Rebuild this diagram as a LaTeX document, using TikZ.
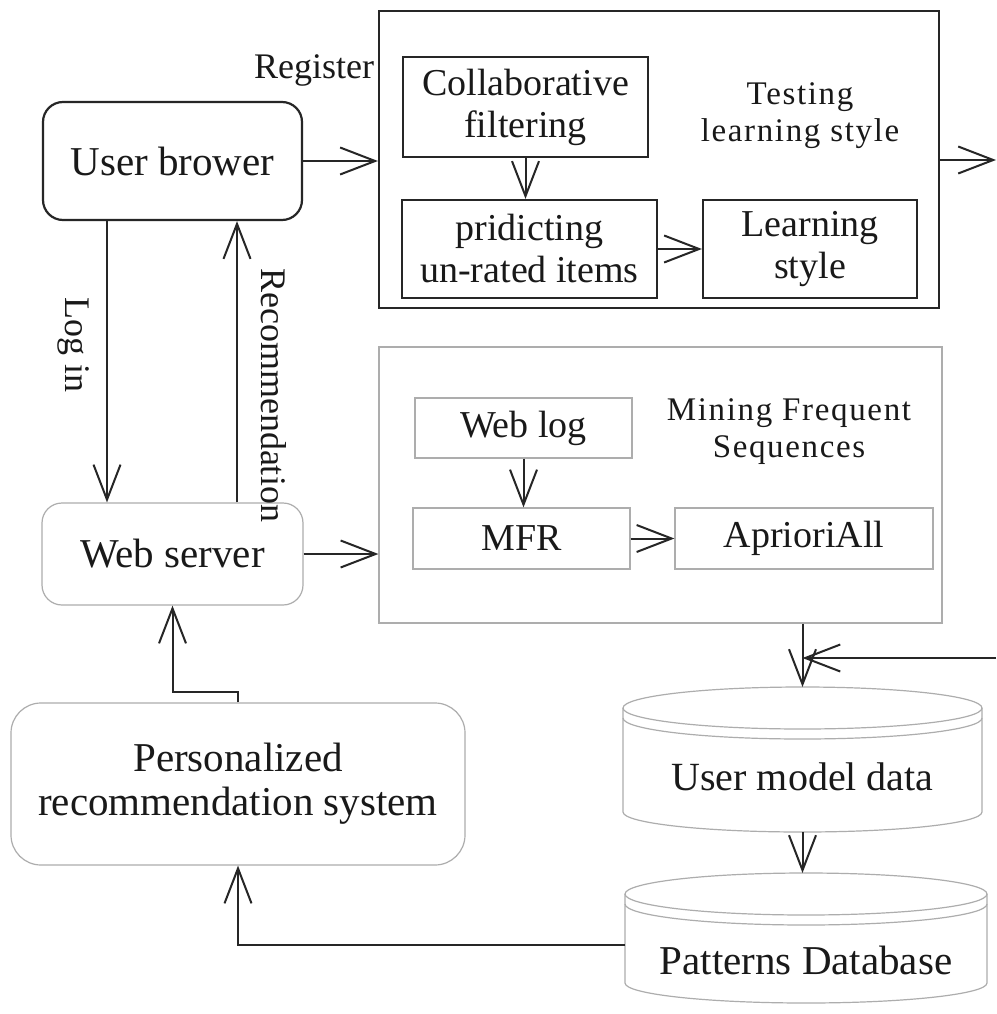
\documentclass[tikz,border=0pt]{standalone}
\usepackage{fontspec}
\setmainfont{Liberation Serif}
\usetikzlibrary{arrows.meta,calc}
\begin{document}
\begin{tikzpicture}[x=1pt,y=-1pt,
  bigfont/.style={font=\fontsize{38}{42}\selectfont},
  largefont/.style={font=\fontsize{41}{44}\selectfont},
  lblfont/.style={font=\fontsize{33}{37}\selectfont\addfontfeatures{LetterSpace=5}},
  blackbox/.style={draw=black!85, line width=2.2pt, rectangle, inner sep=0pt,
    align=center, bigfont, text=black!90},
  greybox/.style={draw=black!32, line width=1.2pt, rectangle, inner sep=0pt,
    align=center, bigfont, text=black!90},
  arr/.style={draw=black!85, line width=2pt,
    -{Straight Barb[length=35pt,width=27pt,line width=2pt]}},
  cylline/.style={draw=black!32, line width=1.2pt}
]
% canvas
\fill[white] (0,0) rectangle (996,1014);
\useasboundingbox (0,0) rectangle (996,1014);

% ---- upper group: learning style testing ----
\node[blackbox, largefont, rounded corners=20pt, minimum width=259pt, minimum height=118pt] (ub) at (172.5,161) {User brower};
\node[blackbox, minimum width=560pt, minimum height=297pt] (big) at (659,159.5) {};
\node[blackbox, minimum width=245pt, minimum height=100pt] (cf) at (525.5,107) {Collaborative\\filtering};
\node[blackbox, minimum width=255pt, minimum height=98pt] (pr) at (529.5,249) {pridicting\\un-rated items};
\node[blackbox, minimum width=214pt, minimum height=98pt] (ls) at (810,249) {Learning\\style};
\node[lblfont, align=center, text=black!90] (tls) at (800,116) {Testing\\learning style};
\node[font=\fontsize{36}{40}\selectfont, text=black!90] (reg) at (314,70) {Register};

% ---- middle group: mining frequent sequences ----
\node[greybox, largefont, rounded corners=20pt, minimum width=261pt, minimum height=102pt] (ws) at (172.5,554) {Web server};
\node[greybox, minimum width=563pt, minimum height=276pt] (mb) at (660.5,485) {};
\node[greybox, minimum width=217pt, minimum height=60pt] (wl) at (523.5,428) {Web log};
\node[greybox, minimum width=217pt, minimum height=61pt] (mfr) at (521.5,538.5) {MFR};
\node[greybox, minimum width=258pt, minimum height=61pt] (aa) at (804,538.5) {AprioriAll};
\node[lblfont, align=center, text=black!90] (mfs) at (789,432) {Mining Frequent\\Sequences};

% ---- lower group ----
\node[greybox, largefont, rounded corners=30pt, minimum width=454pt, minimum height=162pt] (prs) at (238,784) {Personalized\\recommendation system};

% user model data cylinder
\draw[cylline] (802.5,708) ellipse [x radius=179.5pt, y radius=21pt];
\draw[cylline] (623,718) arc[start angle=180, end angle=360, x radius=179.5pt, y radius=21pt];
\draw[cylline] (623,708) -- (623,812) arc[start angle=180, end angle=360, x radius=179.5pt, y radius=20pt] -- (982,708);
\node[font=\fontsize{40}{44}\selectfont, text=black!90] (umd) at (802.5,777) {User model data};
\coordinate (umdtop) at (802.5,687);
\coordinate (umdbot) at (802.5,832);

% patterns database cylinder
\draw[cylline] (806,894) ellipse [x radius=181pt, y radius=21pt];
\draw[cylline] (625,904) arc[start angle=180, end angle=360, x radius=181pt, y radius=21pt];
\draw[cylline] (625,894) -- (625,983) arc[start angle=180, end angle=360, x radius=181pt, y radius=20pt] -- (987,894);
\node[largefont, text=black!90] (pd) at (806,960) {Patterns Database};
\coordinate (pdtop) at (806,873);
\coordinate (pdleft) at (625,945);

% free ends at the right margin
\coordinate (outR) at (996,160);
\coordinate (inR) at (996,658);

% ---- connectors ----
\draw[arr] (ub.east) -- (ub.east -| big.west);
\draw[arr] (big.east |- outR) -- (outR);
\draw[arr] (cf.south) -- (cf.south |- pr.north);
\draw[arr] (pr.east) -- (ls.west);
\draw[arr] ([xshift=-65.5pt]ub.south) -- ([xshift=-65.5pt]ub.south |- ws.north);
\draw[arr] ([xshift=64.5pt]ws.north) -- ([xshift=64.5pt]ws.north |- ub.south);
\draw[arr] (ws.east) -- (ws.east -| mb.west);
\draw[arr] (wl.south) -- (wl.south |- mfr.north);
\draw[arr] (mfr.east) -- (aa.west);
\draw[arr] (umdtop |- mb.south) -- (umdtop);
\draw[arr] (inR) -- (inR -| umdtop);
\draw[arr] (umdbot) -- (umdbot |- pdtop);
\draw[arr] (pdleft) -| (prs.south);
\draw[arr] (prs.north) -- ++(0,-10) -| (ws.south);

% rotated connector labels
\node[font=\fontsize{36}{40}\selectfont, rotate=-90, text=black!90] (login) at (74,345) {Log in};
\node[font=\fontsize{36}{40}\selectfont, rotate=-90, text=black!90] (rec) at (274,395) {Recommendation};
\end{tikzpicture}
\end{document}
